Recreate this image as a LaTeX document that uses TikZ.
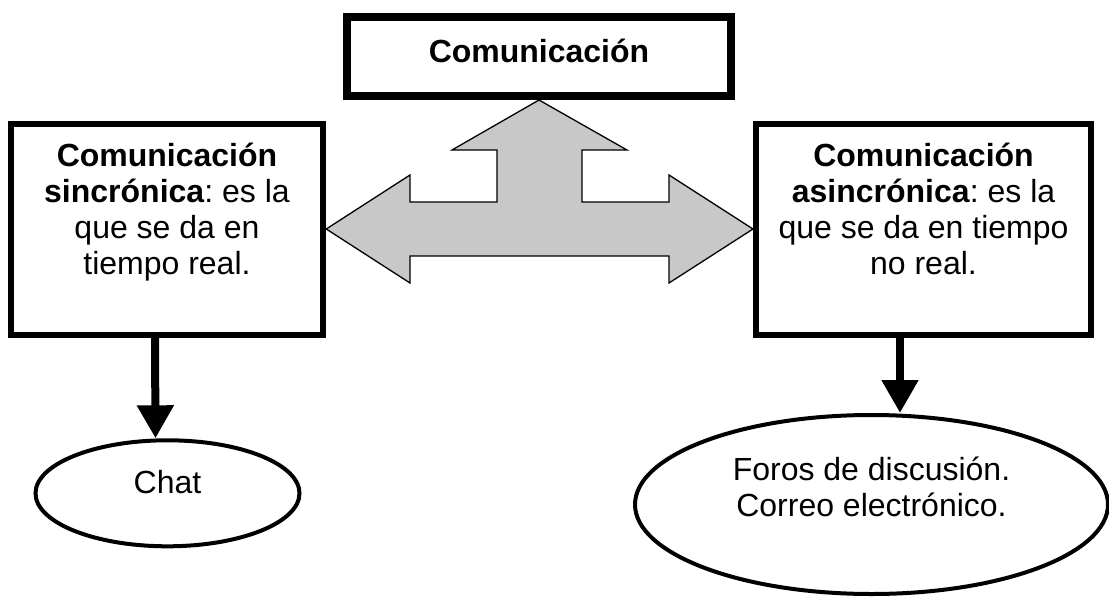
\documentclass[tikz,border=0pt]{standalone}
\usepackage{fontspec}
\setmainfont{Liberation Sans}
\usetikzlibrary{shapes.geometric,arrows.meta}
\definecolor{arrowgray}{RGB}{200,200,200}
\frenchspacing
\begin{document}
\begin{tikzpicture}[x=1pt, y=-1pt,
        txt/.style={font=\fontsize{32}{36}\selectfont\frenchspacing, align=center, inner sep=0pt},
        sidebox/.style={draw, line width=6pt, inner sep=0pt, minimum width=312.5pt, minimum height=211pt},
        oval/.style={draw, ellipse, line width=4pt, inner sep=0pt},
        down/.style={line width=8pt, -{Triangle[width=35pt,length=33pt]}}]
        \useasboundingbox (0,0) rectangle (1109,597);

        \node [draw, line width=8pt, inner sep=0pt, minimum width=384pt, minimum height=79pt] (com) at (539,56.5) {};
        \node [sidebox] (sinc) at (167,229) {};
        \node [sidebox, minimum width=335pt] (asinc) at (923.5,229) {};
        \node [oval, minimum width=264pt, minimum height=106pt] (chat) at (167.5,493.3) {};
        \node [oval, minimum width=473pt, minimum height=179pt] (foros) at (871.5,504.5) {};

        % base anchor sits on the last line
        \node [txt, anchor=base] (comtext) at ([yshift=-5.5pt]com.center) {\bfseries Comunicación};
        \node [txt, anchor=base] (sinctext) at ([yshift=-45pt]sinc.center) {\textbf{Comunicación}\\\textbf{sincrónica}: es la\\que se da en\\tiempo real.};
        \node [txt, anchor=base] (asinctext) at ([yshift=-45pt]asinc.center) {\textbf{Comunicación}\\\textbf{asincrónica}: es la\\que se da en tiempo\\no real.};
        \node [txt, anchor=base] (chattext) at ([yshift=-0.3pt]chat.center) {Chat};
        \node [txt, anchor=base] (forostext) at ([yshift=-11.5pt]foros.center) {Foros de discusión.\\Correo electrónico.};

        % three-way arrow
        \draw [fill=arrowgray, line width=1.3pt] (sinc.east) -- (410,175) -- (410,202) -- (497,202) -- (497,150) -- (452,150)
            -- (com.south) -- (627,150) -- (582,150) -- (582,202) -- (669,202) -- (669,175)
            -- (asinc.west) -- (669,283) -- (669,256) -- (410,256) -- (410,283) -- cycle;

        \draw [down] ([xshift=-12pt]sinc.south) -- ([xshift=-12pt]chat.north);
        \draw [down] ([xshift=-23.5pt]asinc.south) -- ([xshift=28.5pt]foros.north);
    \end{tikzpicture}
\end{document}
